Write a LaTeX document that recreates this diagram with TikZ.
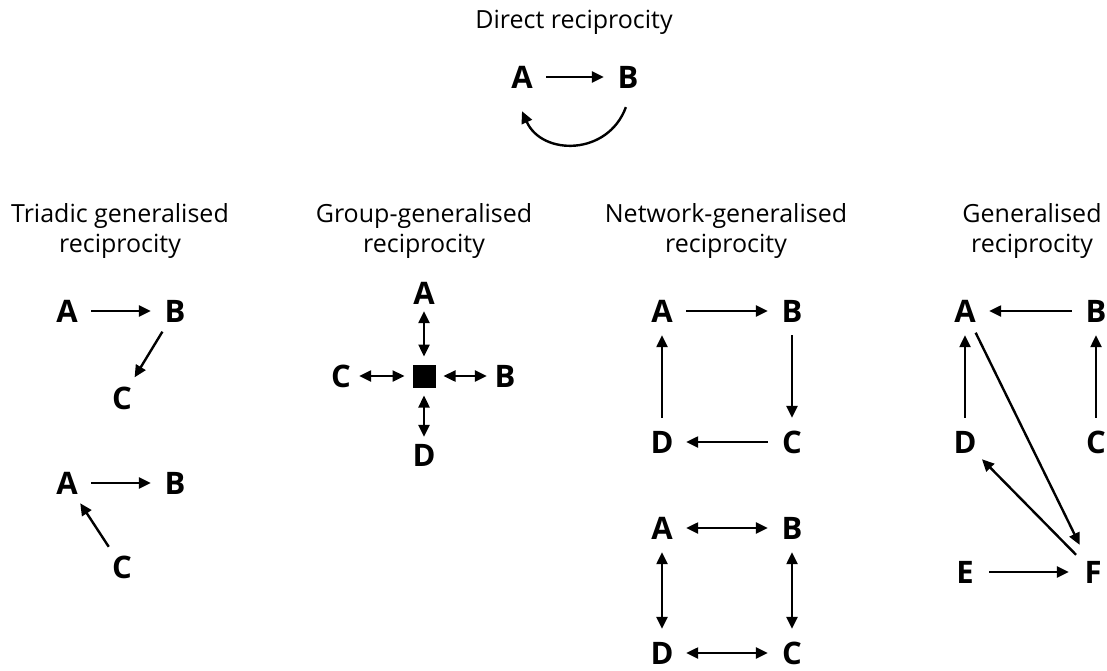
\documentclass[tikz,border=0pt]{standalone}
\usepackage{fontspec}
\setmainfont{Open Sans}
\usetikzlibrary{arrows.meta}
\begin{document}
\begin{tikzpicture}[x=1pt,y=-1pt,
 lett/.style={circle,inner sep=0pt,minimum size=48pt,font=\fontsize{31}{31}\selectfont\bfseries},
 glett/.style={lett,minimum size=36pt},
 ttl/.style={align=center,inner sep=0pt,font=\fontsize{25}{30}\selectfont},
 arr/.style={line width=2.4pt,-{Triangle[length=12pt,width=11pt]}},
 darr/.style={line width=2.4pt,{Triangle[length=12pt,width=11pt]}-{Triangle[length=12pt,width=11pt]}}]
\useasboundingbox[fill=white] (0,0) rectangle (1107,670);

% Direct reciprocity
\node[ttl] (t0) at (574,22) {Direct reciprocity};
\node[lett] (dA) at (522,77) {A};
\node[lett] (dB) at (628,77) {B};
\draw[arr] (dA) -- (dB);
\draw[arr] ([yshift=-6pt]dB.-95) .. controls (608,156) and (542,156) .. ([yshift=-10pt]dA.-90);

% Triadic
\node[ttl] (t1) at (120,231) {Triadic generalised\\reciprocity};
\node[lett] (tA1) at (67,311) {A};
\node[lett] (tB1) at (175,311) {B};
\node[lett] (tC1) at (122,398) {C};
\draw[arr] (tA1) -- (tB1);
\draw[arr] (tB1) -- (tC1);
\node[lett] (tA2) at (67,483) {A};
\node[lett] (tB2) at (175,483) {B};
\node[lett] (tC2) at (122,567) {C};
\draw[arr] (tA2) -- (tB2);
\draw[arr] (tC2) -- (tA2);

% Group
\node[ttl] (t2) at (424,231) {Group-generalised\\reciprocity};
\node[fill=black,minimum size=23pt,inner sep=0pt,outer sep=8pt] (gS) at (424,376) {};
\node[glett] (gA) at (424,293) {A};
\node[glett] (gB) at (505,376) {B};
\node[glett] (gC) at (341,376) {C};
\node[glett] (gD) at (424,455) {D};
\draw[darr] (gA) -- (gS);
\draw[darr] (gB) -- (gS);
\draw[darr] (gC) -- (gS);
\draw[darr] (gD) -- (gS);

% Network
\node[ttl] (t3) at (726,231) {Network-generalised\\reciprocity};
\node[lett] (nA1) at (662,311) {A};
\node[lett] (nB1) at (792,311) {B};
\node[lett] (nD1) at (662,442) {D};
\node[lett] (nC1) at (792,442) {C};
\draw[arr] (nA1) -- (nB1);
\draw[arr] (nB1) -- (nC1);
\draw[arr] (nC1) -- (nD1);
\draw[arr] (nD1) -- (nA1);
\node[lett] (nA2) at (662,528) {A};
\node[lett] (nB2) at (792,528) {B};
\node[lett] (nD2) at (662,653) {D};
\node[lett] (nC2) at (792,653) {C};
\draw[darr] (nA2) -- (nB2);
\draw[darr] (nB2) -- (nC2);
\draw[darr] (nC2) -- (nD2);
\draw[darr] (nD2) -- (nA2);

% Generalised
\node[ttl] (t4) at (1032,231) {Generalised\\reciprocity};
\node[lett] (eA) at (965,311) {A};
\node[lett] (eB) at (1096,311) {B};
\node[lett] (eD) at (965,442) {D};
\node[lett] (eC) at (1096,442) {C};
\node[lett] (eE) at (965,572) {E};
\node[lett] (eF) at (1093,572) {F};
\draw[arr] (eB) -- (eA);
\draw[arr] (eC) -- (eB);
\draw[arr] (eD) -- (eA);
\draw[arr,shorten >=6pt] (eA) -- (eF);
\draw[arr] (eF) -- (eD);
\draw[arr] (eE) -- (eF);
\end{tikzpicture}
\end{document}
